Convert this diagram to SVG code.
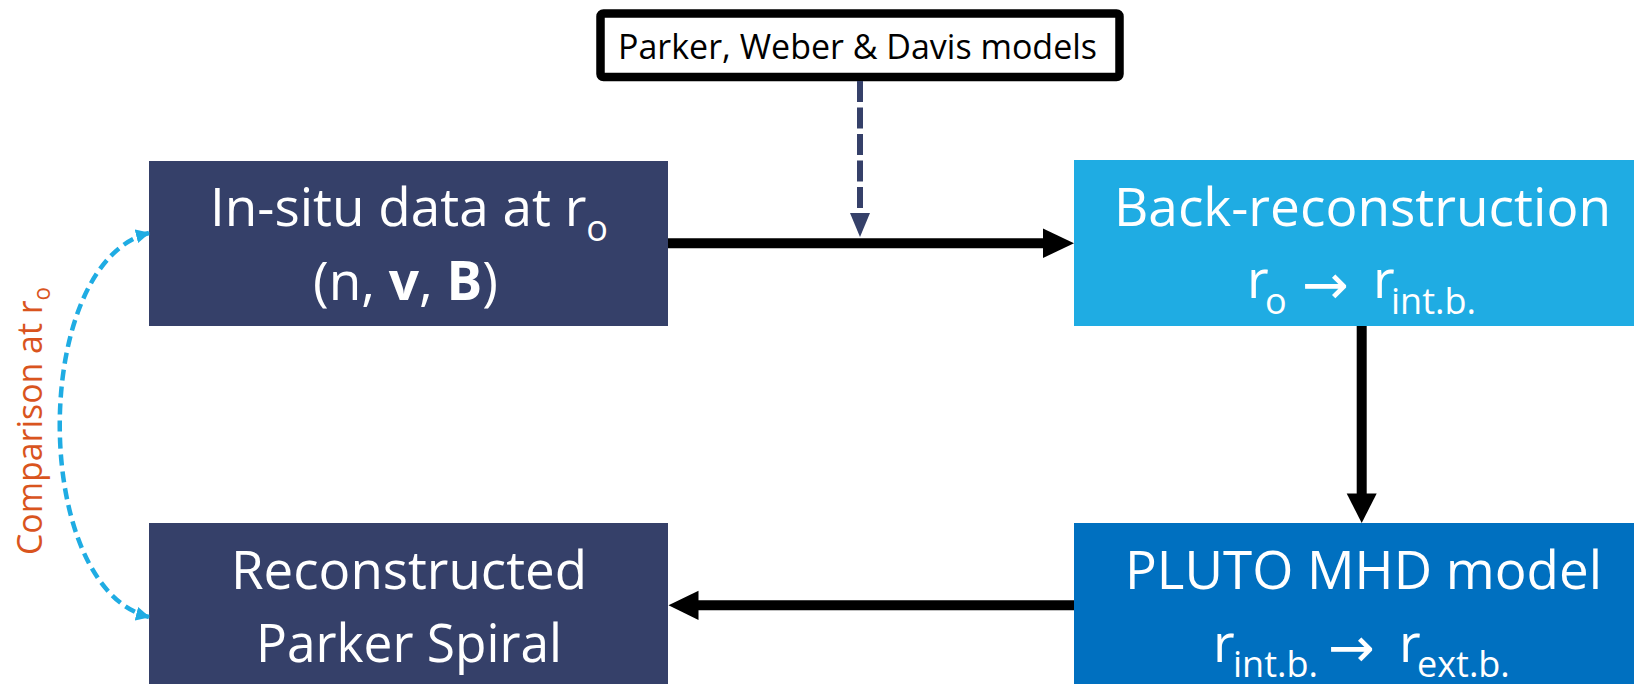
<svg xmlns="http://www.w3.org/2000/svg" width="1636" height="684" viewBox="0 0 1636 684">
  <style>
    .lbl { font-family: "Open Sans", "Noto Sans", "Liberation Sans", sans-serif; fill: #ffffff; font-size: 53px; }
    .sub { font-size: 36px; }
    .arr { font-family: "DejaVu Sans", sans-serif; font-size: 56px; }
    .b { font-weight: bold; }
    .navy { fill: #354069; }
    .conn { stroke: #000000; stroke-width: 10; fill: none; }
    .head { fill: #000000; }
  </style>
  <defs>
    <marker id="cyanHead" viewBox="0 0 14 14" refX="13" refY="7" markerWidth="14" markerHeight="14" markerUnits="userSpaceOnUse" orient="auto-start-reverse">
      <path d="M0,0 L14,7 L0,14 Z" fill="#1FACE3"/>
    </marker>
  </defs>

  <rect width="1636" height="684" fill="#ffffff"/>

  <!-- model source box -->
  <g id="models">
    <rect x="600.5" y="13.5" width="519" height="63.5" rx="3" fill="#ffffff" stroke="#000000" stroke-width="8.5"/>
    <text x="618" y="58.5" font-family="'Open Sans', 'Noto Sans', 'Liberation Sans', sans-serif" font-size="35" fill="#000000" textLength="479" lengthAdjust="spacingAndGlyphs">Parker, Weber &amp; Davis models</text>
  </g>

  <!-- in-situ data -->
  <g id="insitu">
    <rect class="navy" x="149" y="161" width="519" height="165"/>
    <text class="lbl" x="210" y="226" textLength="398" lengthAdjust="spacingAndGlyphs">In-situ data at r<tspan class="sub" dy="15">o</tspan></text>
    <text class="lbl" x="313" y="300" textLength="185" lengthAdjust="spacingAndGlyphs">(n, <tspan class="b">v</tspan>, <tspan class="b">B</tspan>)</text>
  </g>

  <!-- back-reconstruction -->
  <g id="backrec">
    <rect x="1074" y="160" width="560" height="166" fill="#1FACE3"/>
    <text class="lbl" x="1114" y="226" textLength="497" lengthAdjust="spacingAndGlyphs">Back-reconstruction</text>
    <text class="lbl"><tspan x="1247" y="298">r</tspan><tspan class="sub" x="1265" y="314">o</tspan><tspan class="arr" x="1302" y="304">→</tspan><tspan x="1373" y="298">r</tspan><tspan class="sub" x="1391" y="314">int.b.</tspan></text>
  </g>

  <!-- PLUTO MHD model -->
  <g id="pluto">
    <rect x="1074" y="523" width="560" height="161" fill="#0070C0"/>
    <text class="lbl" x="1125" y="588.5" textLength="477" lengthAdjust="spacingAndGlyphs">PLUTO MHD model</text>
    <text class="lbl"><tspan x="1213" y="662">r</tspan><tspan class="sub" x="1233" y="677">int.b.</tspan><tspan class="arr" x="1328" y="667">→</tspan><tspan x="1399" y="662">r</tspan><tspan class="sub" x="1417" y="677">ext.b.</tspan></text>
  </g>

  <!-- reconstructed spiral -->
  <g id="spiral">
    <rect class="navy" x="149" y="523" width="519" height="161"/>
    <text class="lbl" x="231" y="588.5" textLength="356" lengthAdjust="spacingAndGlyphs">Reconstructed</text>
    <text class="lbl" x="256" y="662" textLength="306" lengthAdjust="spacingAndGlyphs">Parker Spiral</text>
  </g>

  <!-- comparison label -->
  <g id="comparison">
    <text transform="translate(42,421) rotate(-90)" text-anchor="middle" font-family="'Open Sans', 'Noto Sans', 'Liberation Sans', sans-serif" font-size="35" fill="#D9541E" textLength="268" lengthAdjust="spacingAndGlyphs">Comparison at r<tspan font-size="23" dy="8">o</tspan></text>
  </g>

  <!-- connectors -->
  <g id="connectors">
    <line x1="860" y1="81" x2="860" y2="208" stroke="#354069" stroke-width="6" stroke-dasharray="21 5.5"/>
    <polygon points="850,213 870,213 860,237" fill="#354069"/>

    <line class="conn" x1="668" y1="243.3" x2="1045" y2="243.3"/>
    <polygon class="head" points="1043,228.5 1043,258 1074,243.3"/>

    <line class="conn" x1="1361.7" y1="326" x2="1361.7" y2="495"/>
    <polygon class="head" points="1346.7,493.5 1376.7,493.5 1361.7,523"/>

    <line class="conn" x1="1074" y1="605.3" x2="697" y2="605.3"/>
    <polygon class="head" points="698.5,590.7 698.5,620 668.5,605.3"/>

    <path d="M149,233 C30,263 30,587 149,617" fill="none" stroke="#1FACE3" stroke-width="4.5" stroke-dasharray="11 6" marker-start="url(#cyanHead)" marker-end="url(#cyanHead)"/>
  </g>
</svg>
